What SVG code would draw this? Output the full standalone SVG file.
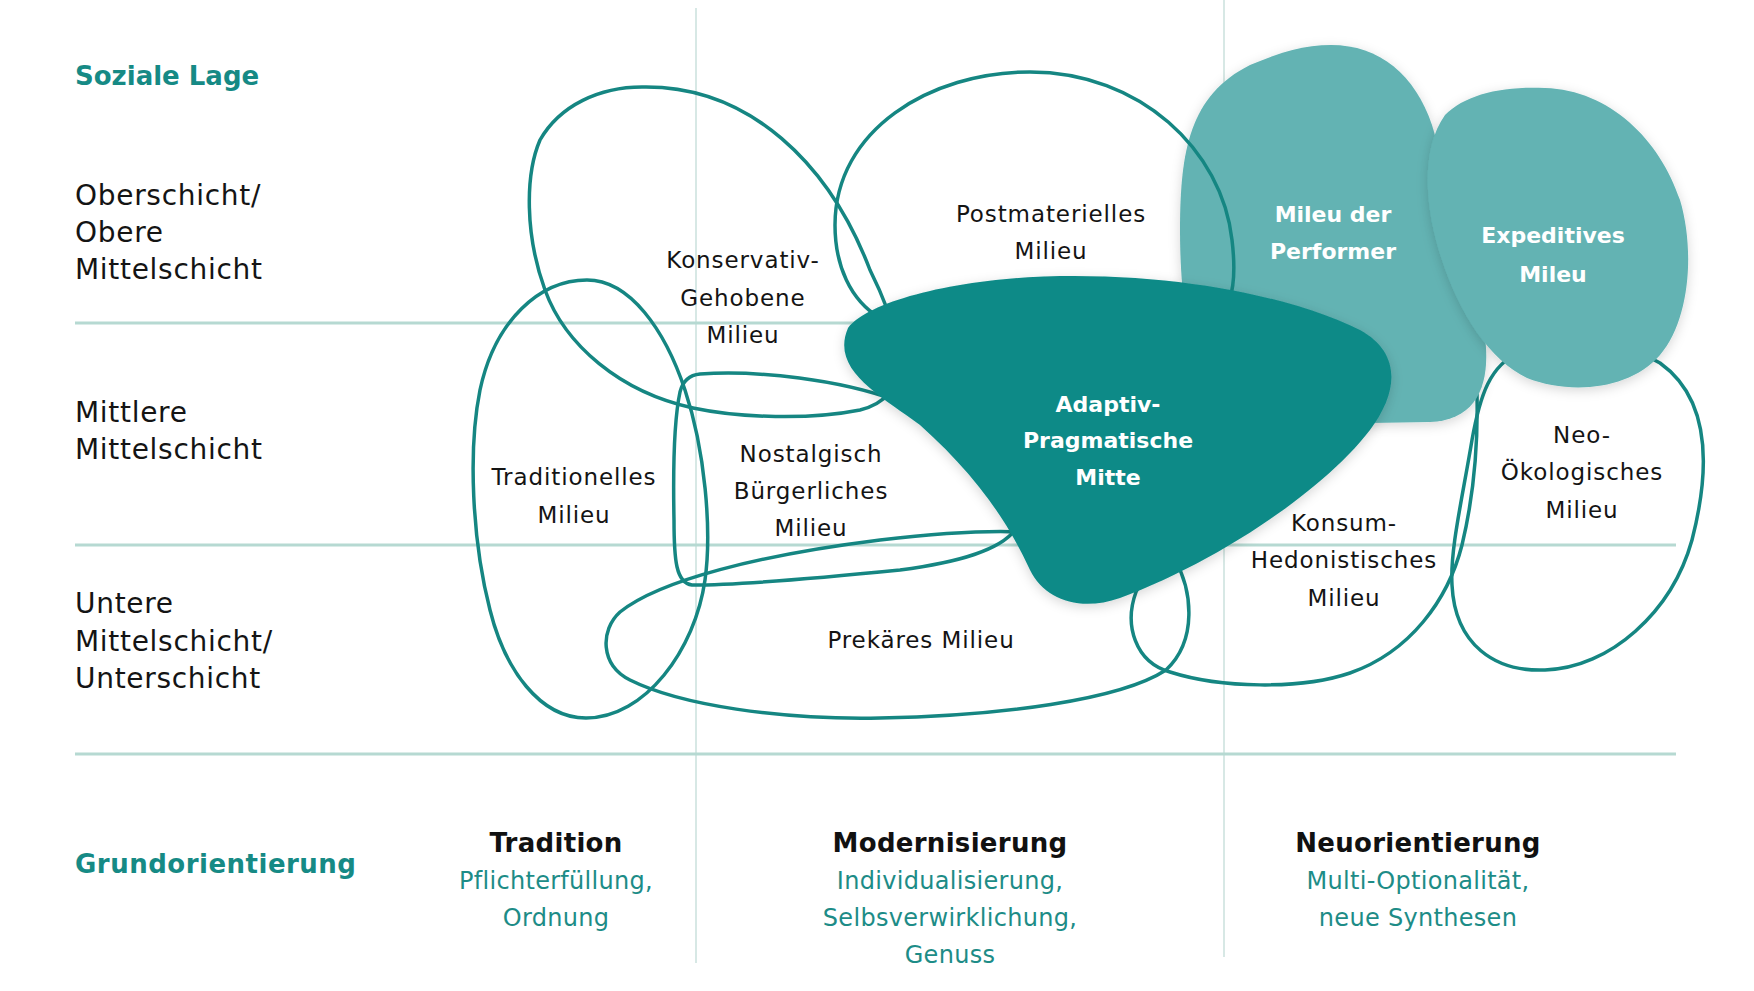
<svg xmlns="http://www.w3.org/2000/svg" width="1754" height="991" viewBox="0 0 1754 991">
<defs>
<filter id="sh" x="-20%" y="-20%" width="140%" height="140%">
<feDropShadow dx="0" dy="3" stdDeviation="6" flood-color="#000" flood-opacity="0.16"/>
</filter>
<style>
.hl{stroke:#b6d9d2;stroke-width:3;fill:none}
.vl{stroke:#d7e8e5;stroke-width:2;fill:none}
.ol{fill:none;stroke:#158682;stroke-width:3.5}
.lt{fill:#63b3b3;filter:url(#sh)}
.dk{fill:#0d8a87;filter:url(#sh)}
.lab{font-family:"DejaVu Sans",sans-serif;font-size:23px;fill:#141414;text-anchor:middle;letter-spacing:0.9px}
.wb{font-family:"DejaVu Sans",sans-serif;font-weight:bold;font-size:22px;fill:#ffffff;text-anchor:middle}
.side{font-family:"DejaVu Sans",sans-serif;font-size:28px;fill:#141414;letter-spacing:0.7px}
.ttl{font-family:"DejaVu Sans",sans-serif;font-weight:bold;font-size:26px;fill:#168a85}
.head{font-family:"DejaVu Sans",sans-serif;font-weight:bold;font-size:26px;fill:#111111;text-anchor:middle;letter-spacing:0.3px}
.sub{font-family:"DejaVu Sans",sans-serif;font-size:24px;fill:#1d8c87;text-anchor:middle;letter-spacing:0.3px}
</style>
</defs>
<rect width="1754" height="991" fill="#ffffff"/>
<g id="grid">
<line class="vl" x1="696" y1="8" x2="696" y2="963"/>
<line class="vl" x1="1224" y1="0" x2="1224" y2="957"/>
<line class="hl" x1="75" y1="323" x2="1676" y2="323"/>
<line class="hl" x1="75" y1="545" x2="1676" y2="545"/>
<line class="hl" x1="75" y1="754" x2="1676" y2="754"/>
</g>
<g id="axis-labels">
<text class="ttl" x="75" y="85">Soziale Lage</text>
<text class="side" x="75" y="205">Oberschicht/</text>
<text class="side" x="75" y="242">Obere</text>
<text class="side" x="75" y="279">Mittelschicht</text>
<text class="side" x="75" y="422">Mittlere</text>
<text class="side" x="75" y="459">Mittelschicht</text>
<text class="side" x="75" y="613">Untere</text>
<text class="side" x="75" y="651">Mittelschicht/</text>
<text class="side" x="75" y="688">Unterschicht</text>
<text class="ttl" x="75" y="873" style="letter-spacing:0.5px">Grundorientierung</text>
<text class="head" x="556" y="852">Tradition</text>
<text class="sub" x="556" y="889">Pflichterfüllung,</text>
<text class="sub" x="556" y="926">Ordnung</text>
<text class="head" x="950" y="852">Modernisierung</text>
<text class="sub" x="950" y="889">Individualisierung,</text>
<text class="sub" x="950" y="926">Selbsverwirklichung,</text>
<text class="sub" x="950" y="963">Genuss</text>
<text class="head" x="1418" y="852">Neuorientierung</text>
<text class="sub" x="1418" y="889">Multi-Optionalität,</text>
<text class="sub" x="1418" y="926">neue Synthesen</text>
</g>
<g id="connectors"></g>
<g id="konservativ-gehobenes">
<path class="ol" d="M642,87 C750,85 830,165 870,270 C885,300 895,330 900,350 C905,390 880,405 860,410 C810,420 740,418 693,408 C620,392 565,345 545,290 C525,235 525,175 540,140 C560,105 600,87 642,87 Z"/>
<text class="lab" x="743" y="268">Konservativ-</text>
<text class="lab" x="743" y="306">Gehobene</text>
<text class="lab" x="743" y="343">Milieu</text>
</g>
<g id="traditionelles">
<path class="ol" d="M587,280 C630,280 665,330 685,390 C705,450 712,530 705,580 C695,650 645,718 586,718 C540,718 505,670 490,610 C472,540 468,450 480,390 C495,320 540,280 587,280 Z"/>
<text class="lab" x="574" y="485">Traditionelles</text>
<text class="lab" x="574" y="523">Milieu</text>
</g>
<g id="nostalgisch-buergerliches">
<path class="ol" d="M700,374 C760,370 840,380 895,400 C950,420 990,470 1015,530 C1000,550 960,562 900,570 C820,578 740,585 692,585 C676,583 674,560 674,520 C673,470 674,420 680,392 C683,380 690,375 700,374 Z"/>
<text class="lab" x="811" y="462">Nostalgisch</text>
<text class="lab" x="811" y="499">Bürgerliches</text>
<text class="lab" x="811" y="536">Milieu</text>
</g>
<g id="prekaeres">
<path class="ol" d="M1175,560 C1192,590 1198,640 1166,670 C1120,700 1000,716 880,718 C780,720 680,705 630,680 C600,665 600,630 620,612 C660,580 760,555 880,540 C950,532 1010,528 1050,535 C1100,545 1150,545 1175,560 Z"/>
<text class="lab" x="921" y="648">Prekäres Milieu</text>
</g>
<g id="konsum-hedonistisches">
<path class="ol" d="M1136,592 C1124,625 1135,662 1170,672 C1220,688 1300,690 1350,673 C1410,652 1448,600 1462,545 C1474,495 1478,440 1477,395 L1440,388 L1360,400 L1250,480 L1150,565 Z"/>
<text class="lab" x="1344" y="531">Konsum-</text>
<text class="lab" x="1344" y="568">Hedonistisches</text>
<text class="lab" x="1344" y="606">Milieu</text>
</g>
<g id="neo-oekologisches">
<path class="ol" d="M1520,352 C1490,365 1480,395 1472,440 C1462,500 1450,550 1452,585 C1455,645 1495,672 1545,670 C1610,668 1672,612 1692,540 C1710,470 1712,400 1660,363 C1620,340 1560,338 1520,352 Z"/>
<text class="lab" x="1582" y="443">Neo-</text>
<text class="lab" x="1582" y="480">Ökologisches</text>
<text class="lab" x="1582" y="518">Milieu</text>
</g>
<g id="performer">
<path class="lt" d="M1331,45 C1380,45 1415,75 1432,125 C1450,185 1470,260 1484,330 C1492,380 1480,420 1430,422 L1250,425 C1200,425 1180,330 1180,230 C1180,150 1190,95 1250,65 C1280,52 1305,45 1331,45 Z"/>
<text class="wb" x="1333" y="222">Mileu der</text>
<text class="wb" x="1333" y="259">Performer</text>
</g>
<g id="expeditives">
<path class="lt" d="M1545,88 C1610,90 1660,140 1680,200 C1695,250 1690,320 1660,355 C1630,390 1570,395 1527,378 C1490,360 1460,315 1442,260 C1425,210 1420,150 1445,115 C1465,95 1500,86 1545,88 Z"/>
<text class="wb" x="1553" y="243">Expeditives</text>
<text class="wb" x="1553" y="282">Mileu</text>
</g>
<g id="postmaterielles">
<path class="ol" d="M1030,72 C1140,72 1222,150 1232,240 C1238,290 1230,320 1200,325 C1100,335 940,330 880,318 C850,300 835,265 835,225 C835,130 930,72 1030,72 Z"/>
<text class="lab" x="1051" y="222">Postmaterielles</text>
<text class="lab" x="1051" y="259">Milieu</text>
</g>
<g id="adaptiv-pragmatische">
<path class="dk" d="M848,328 C870,300 960,278 1060,276 C1190,274 1300,300 1360,330 C1400,352 1400,390 1370,430 C1320,495 1210,565 1120,598 C1080,612 1045,600 1030,570 C1005,515 970,470 920,425 C880,395 830,370 848,328 Z"/>
<text class="wb" x="1108" y="412">Adaptiv-</text>
<text class="wb" x="1108" y="448">Pragmatische</text>
<text class="wb" x="1108" y="485">Mitte</text>
</g>
</svg>
